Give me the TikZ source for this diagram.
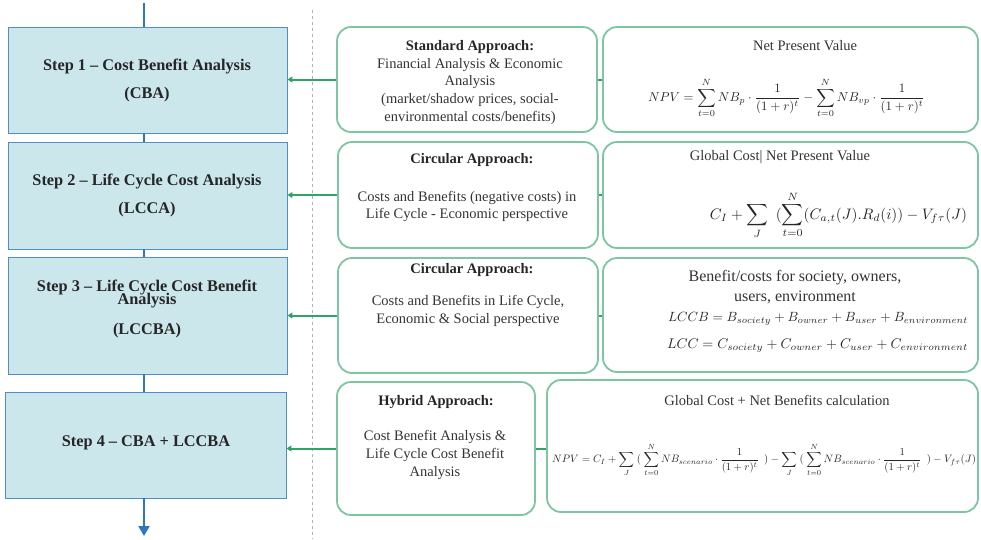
\documentclass[tikz,border=0pt]{standalone}
\usepackage{fontspec}
\setmainfont{Liberation Serif}
\usepackage{graphicx}
\usetikzlibrary{arrows.meta}
\definecolor{stepfill}{HTML}{CBE7EC}
\definecolor{stepline}{HTML}{4F8EC9}
\definecolor{flowblue}{HTML}{2E78BE}
\definecolor{linkgreen}{HTML}{2FA466}
\definecolor{boxgreen}{HTML}{7CC6A2}
\definecolor{txt}{HTML}{333333}
\begin{document}
\begin{tikzpicture}[x=1pt,y=-1pt,
  stepbox/.style={draw=stepline, fill=stepfill, line width=0.9pt, minimum width=279pt, inner sep=0pt},
  steptext/.style={font=\fontsize{16.3}{19}\selectfont\bfseries, align=center, text=black!85, inner sep=0pt},
  apbox/.style={draw=boxgreen, line width=1.8pt, rounded corners=14pt, inner sep=0pt},
  flow/.style={draw=flowblue, line width=2.2pt},
  link/.style={draw=linkgreen, line width=2pt},
  linkarrow/.style={link, -{Triangle[length=5pt,width=6pt]}},
  body/.style={font=\fontsize{14.5}{17.8}\selectfont, align=center, text=txt, inner sep=0pt},
  head/.style={font=\fontsize{14.5}{17.8}\selectfont\bfseries, text=black!85, inner sep=0pt},
  rhead/.style={font=\fontsize{14.5}{17.8}\selectfont, align=center, text=txt, inner sep=0pt},
  mathtxt/.style={text=black!85, inner sep=0pt}
]
\useasboundingbox (0,0) rectangle (981,539);

% dashed separator
\draw[gray!60, line width=0.8pt, dash pattern=on 3pt off 3pt] (312,10) -- (312,539);

% step boxes
\node[stepbox, minimum height=106pt] (s1) at (147.5,80) {};
\node[stepbox, minimum height=107pt] (s2) at (147.5,195.5) {};
\node[stepbox, minimum height=117pt] (s3) at (147.5,315.5) {};
\node[stepbox, minimum width=281pt, minimum height=106pt] (s4) at (145.5,445) {};

\node[steptext] (t1) at (147,80) {Step 1 -- Cost Benefit Analysis\\[9pt](CBA)};
\node[steptext] (t2) at (147,195) {Step 2 -- Life Cycle Cost Analysis\\[9pt](LCCA)};
\node[steptext] (t3) at (147,309) {Step 3 -- Life Cycle Cost Benefit\\[-6pt]Analysis\\[11pt](LCCBA)};
\node[steptext] (t4) at (146,443) {Step 4 -- CBA + LCCBA};

% flow line
\coordinate (top) at (144,3);
\coordinate (bot) at (144,536);
\draw[flow] (top) -- (s1.north -| top);
\draw[flow] (s1.south -| top) -- (s2.north -| top);
\draw[flow] (s2.south -| top) -- (s3.north -| top);
\draw[flow] (s3.south -| top) -- (s4.north -| top);
\draw[flow, -{Triangle[length=10pt,width=11pt]}] (s4.south -| top) -- (bot);

% approach boxes
\node[apbox, minimum width=260pt, minimum height=105pt] (m1) at (467,79.5) {};
\node[apbox, minimum width=260pt, minimum height=106pt] (m2) at (468,195) {};
\node[apbox, minimum width=260pt, minimum height=115pt] (m3) at (468,315.5) {};
\node[apbox, minimum width=198pt, minimum height=133pt] (m4) at (436,448.5) {};

% formula boxes
\node[apbox, minimum width=375pt, minimum height=105pt] (r1) at (790.5,79.5) {};
\node[apbox, minimum width=375pt, minimum height=106pt] (r2) at (790.5,195) {};
\node[apbox, minimum width=375pt, minimum height=114pt] (r3) at (790.5,315) {};
\node[apbox, minimum width=431pt, minimum height=132pt] (r4) at (762.5,446) {};

% connectors
\draw[linkarrow] (m1.west) -- (m1.west -| s1.east);
\draw[linkarrow] (m2.west) -- (m2.west -| s2.east);
\draw[linkarrow] (m3.west) -- (m3.west -| s3.east);
\draw[linkarrow] (m4.west) -- (m4.west -| s4.east);
\draw[link] (m1.east) -- (m1.east -| r1.west);
\draw[link] (m2.east) -- (m2.east -| r2.west);
\draw[link] (m3.east) -- (m3.east -| r3.west);
\draw[link] (m4.east) -- (m4.east -| r4.west);

% approach texts
\node[body] (b1) at (470,82.5) {\textbf{\color{black!85}Standard Approach:}\\Financial Analysis \& Economic\\Analysis\\(market/shadow prices, social-\\environmental  costs/benefits)};
\node[head] (h2) at (472,160) {Circular Approach:};
\node[body] (b2) at (467,206.5) {Costs and Benefits (negative costs) in\\Life Cycle - Economic perspective};
\node[head] (h3) at (472,270) {Circular Approach:};
\node[body] (b3) at (468,311) {Costs and Benefits in Life Cycle,\\Economic \& Social perspective};
\node[head] (h4) at (436,402) {Hybrid Approach:};
\node[body] (b4) at (435,455) {Cost Benefit Analysis \&\\Life Cycle Cost Benefit\\Analysis};

% formula texts
\node[rhead] (rh1) at (805,46) {Net Present Value};
\node[mathtxt] (f1) at (786.5,98) {\resizebox{277pt}{!}{$\displaystyle NPV = \sum_{t=0}^{N} NB_{p}\cdot\frac{1}{(1+r)^{t}} - \sum_{t=0}^{N} NB_{vp}\cdot\frac{1}{(1+r)^{t}}$}};

\node[rhead] (rh2) at (780,157) {Global Cost| Net Present Value};
\node[mathtxt] (f2) at (838.5,215) {\resizebox{257pt}{!}{$\displaystyle C_I + \sum_{J}\ \ (\sum_{t=0}^{N}(C_{a,t}(J).R_d(i)) - V_{f\tau}(J)$}};

\node[rhead, font=\fontsize{16}{20}\selectfont] (rh3) at (795,287) {Benefit/costs  for society, owners,\\users, environment};
\node[mathtxt] (f3a) at (818,319) {\resizebox{300pt}{!}{$LCCB = B_{society} + B_{owner} + B_{user} + B_{environment}$}};
\node[mathtxt] (f3b) at (817.5,346) {\resizebox{301pt}{!}{$LCC = C_{society} + C_{owner} + C_{user} + C_{environment}$}};

\node[rhead] (rh4) at (777,400) {Global Cost + Net Benefits  calculation};
\node[mathtxt] (f4) at (764,460) {\resizebox{424pt}{!}{$\displaystyle NPV = C_I + \sum_{J}\ (\ \sum_{t=0}^{N} NB_{scenario}\cdot\frac{1}{(1+r)^{t}}\ \ ) - \sum_{J}\ (\ \sum_{t=0}^{N} NB_{scenario}\cdot\frac{1}{(1+r)^{t}}\ \ ) - V_{f\tau}(J)$}};
\end{tikzpicture}
\end{document}
